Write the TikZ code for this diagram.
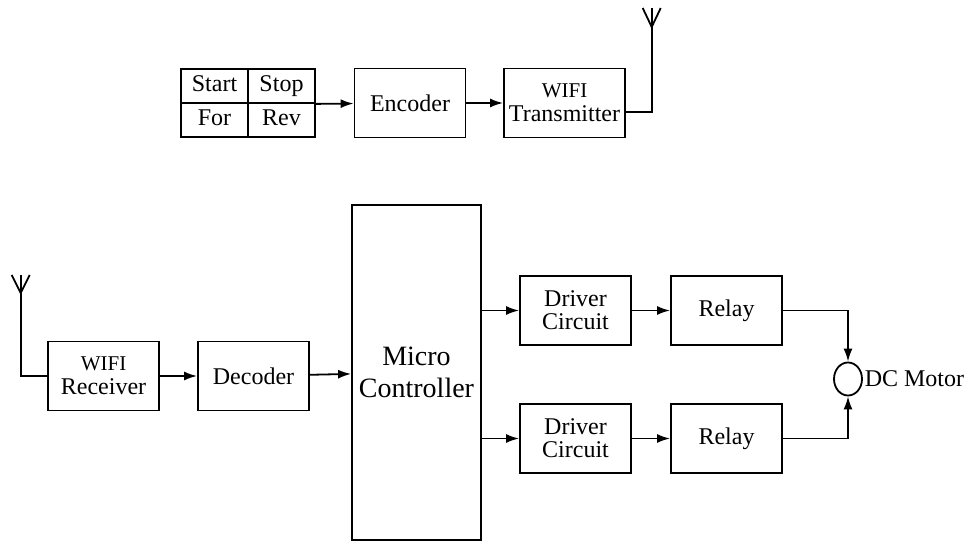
\documentclass[tikz,border=0pt]{standalone}
\usepackage{fontspec}
\setmainfont{Liberation Serif}
\usetikzlibrary{arrows.meta,shapes.geometric}
\tikzstyle{block}=[rectangle, draw, minimum width=55.5pt, minimum height=34.5pt, inner sep=1pt, align=center, font=\fontsize{12}{12}\selectfont]
\tikzstyle{cell}=[block, minimum width=33.5pt, minimum height=17pt, text height=8.5pt, text depth=2.5pt, inner sep=0pt]
\newcommand{\block}{\node[block]}
\newcommand{\cell}{\node[cell]}
\newcommand{\wifi}{{\fontsize{10.5}{12}\selectfont WIFI}}

\begin{document}
\begin{tikzpicture}[x=0.5pt, y=-0.5pt, line width=0.9pt,
	every edge/.style={
		draw,
		-{Latex[length=6.5pt,width=4.5pt]}
	},
	corner/.style={to path={-| (\tikztotarget)}}
	]
	\useasboundingbox (0,0) rectangle (968,545);
	\cell (start) at (214.5,86) {Start};
	\cell (stop) at (281.5,86) {Stop};
	\cell (for) at (214.5,120) {For};
	\cell (rev) at (281.5,120) {Rev};
	\block (encoder) at (410,103) {Encoder};
	\block (tx) at (564.5,103) [minimum width=60.5pt]{\wifi\\Transmitter};
	\block (receiver) at (103.5,376) {\wifi\\Receiver};
	\block (decoder) at (253.5,376) {Decoder};
	\block (mc) at (416.5,372.5) [minimum width=64.5pt, minimum height=167.5pt, font=\fontsize{14}{16}\selectfont]{Micro\\Controller};
	\block (driver1) at (575.5,310.5) [font=\fontsize{12}{11.5}\selectfont]{Driver\\Circuit};
	\block (relay1) at (726.5,310.5) {Relay};
	\block (driver2) at (575.5,438.5) [font=\fontsize{12}{11.5}\selectfont]{Driver\\Circuit};
	\block (relay2) at (726.5,438.5) {Relay};
	\node (motor) at (848,379) [ellipse, draw, minimum width=14pt, minimum height=16.5pt, inner sep=0pt,
		label={[inner sep=0.5pt, font=\fontsize{12}{12}\selectfont]right:DC Motor}]{};
	\coordinate (txant) at (651.7,112);
	\coordinate (txtop) at (651.7,8);
	\coordinate (rxant) at (20.7,376);
	\coordinate (rxtop) at (20.7,275);
	\draw ([yshift=-4.5pt]tx.east) -- (txant) -- (txtop);
	\draw ([xshift=-4.5pt]txtop) -- ([yshift=-9.5pt]txtop) -- ([xshift=4.5pt]txtop);
	\draw (receiver.west) -- (rxant) -- (rxtop);
	\draw ([xshift=-4.5pt]rxtop) -- ([yshift=-9pt]rxtop) -- ([xshift=4.5pt]rxtop);
	\path
	(stop.south east) edge (encoder)
	(encoder) edge (tx)
	(receiver) edge (decoder)
	(decoder) edge (mc)
	(mc.east |- driver1) edge (driver1)
	(mc.east |- driver2) edge (driver2)
	(driver1) edge (relay1)
	(driver2) edge (relay2)
	(relay1.east) edge[corner] (motor.north)
	(relay2.east) edge[corner] (motor.south)
	;
\end{tikzpicture}
\end{document}
